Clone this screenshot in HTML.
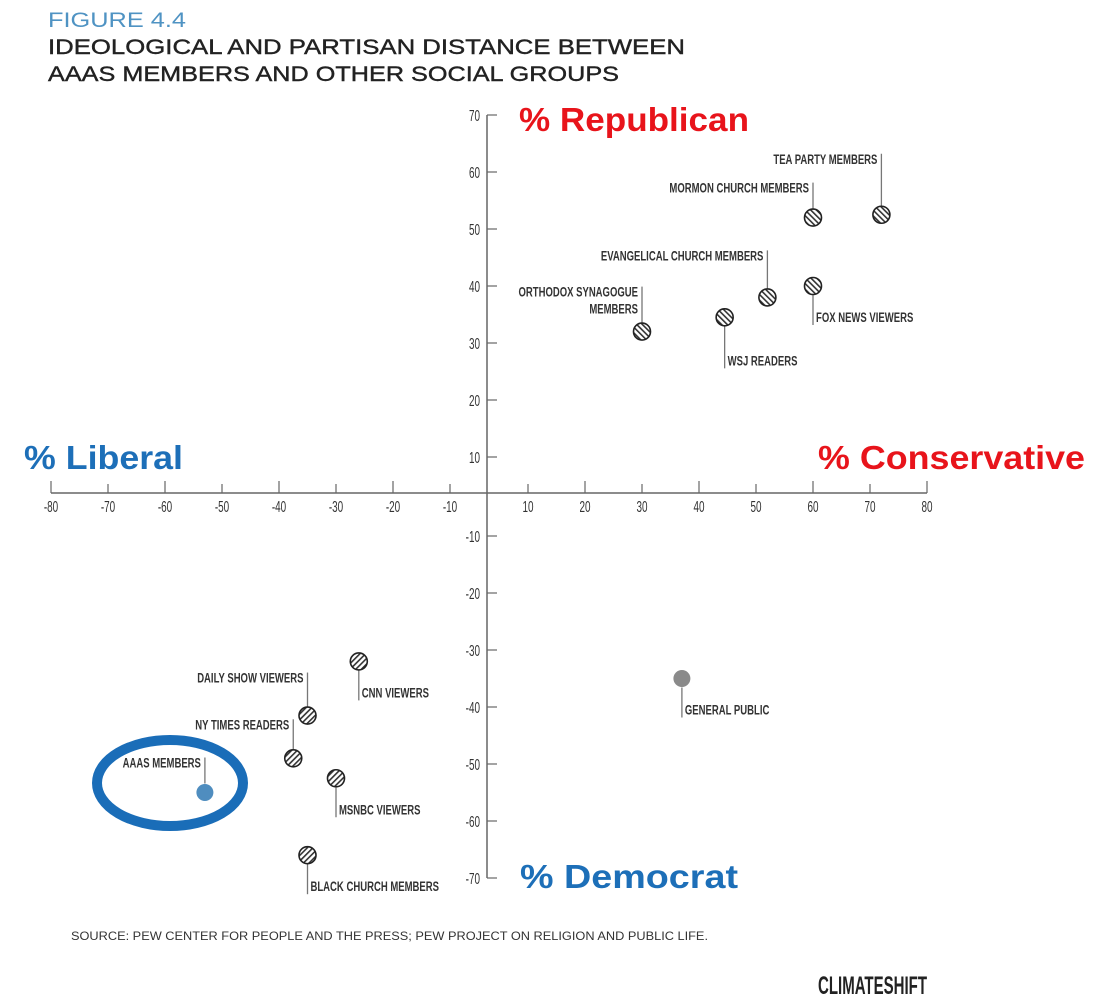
<!DOCTYPE html>
<html><head><meta charset="utf-8"><style>
html,body{margin:0;padding:0;background:#fff;}
svg{display:block;font-family:"Liberation Sans",sans-serif;}
</style></head><body>
<svg id="chart" width="1110" height="1007" viewBox="0 0 1110 1007">
<defs>
<pattern id="hatchA" patternUnits="userSpaceOnUse" width="4" height="4" patternTransform="rotate(-45)"><rect width="4" height="4" fill="#fff"/><rect width="1.6" height="4" fill="#333"/></pattern>
<pattern id="hatchB" patternUnits="userSpaceOnUse" width="4" height="4" patternTransform="rotate(45)"><rect width="4" height="4" fill="#fff"/><rect width="1.6" height="4" fill="#333"/></pattern>
</defs>
<text x="48" y="27" font-size="21" fill="#4f93c3" textLength="138" lengthAdjust="spacingAndGlyphs">FIGURE 4.4</text>
<text x="48" y="54" font-size="21" fill="#222" stroke="#222" stroke-width="0.4" textLength="637" lengthAdjust="spacingAndGlyphs">IDEOLOGICAL AND PARTISAN DISTANCE BETWEEN</text>
<text x="48" y="81" font-size="21" fill="#222" stroke="#222" stroke-width="0.4" textLength="571" lengthAdjust="spacingAndGlyphs">AAAS MEMBERS AND OTHER SOCIAL GROUPS</text>
<g id="axes"></g>
<g id="marks"></g>
<text x="519" y="131" font-size="33" font-weight="bold" fill="#e8141b" textLength="230" lengthAdjust="spacingAndGlyphs">% Republican</text>
<text x="24" y="469" font-size="33" font-weight="bold" fill="#1d6fb8" textLength="159" lengthAdjust="spacingAndGlyphs">% Liberal</text>
<text x="818" y="469" font-size="33" font-weight="bold" fill="#e8141b" textLength="267" lengthAdjust="spacingAndGlyphs">% Conservative</text>
<text x="520" y="888" font-size="33" font-weight="bold" fill="#1d6fb8" textLength="218" lengthAdjust="spacingAndGlyphs">% Democrat</text>
<ellipse cx="170" cy="783" rx="73" ry="43" fill="none" stroke="#1a6db8" stroke-width="10"/>
<text x="71" y="940" font-size="12" fill="#333" textLength="637" lengthAdjust="spacingAndGlyphs">SOURCE: PEW CENTER FOR PEOPLE AND THE PRESS; PEW PROJECT ON RELIGION AND PUBLIC LIFE.</text>
<text x="818" y="994" font-size="25" font-weight="bold" fill="#222" textLength="109" lengthAdjust="spacingAndGlyphs">CLIMATESHIFT</text>
</svg>
<script>
const groups = ["TEA PARTY MEMBERS","MORMON CHURCH MEMBERS","EVANGELICAL CHURCH MEMBERS","FOX NEWS VIEWERS","ORTHODOX SYNAGOGUE|MEMBERS","WSJ READERS","CNN VIEWERS","DAILY SHOW VIEWERS","NY TIMES READERS","MSNBC VIEWERS","AAAS MEMBERS","BLACK CHURCH MEMBERS","GENERAL PUBLIC"];
const conservativeValues = [72,60,52,60,30,44.5,-26,-35,-37.5,-30,-53,-35,37];
const republicanValues = [52.5,52,38,40,32,34.5,-32,-41.5,-49,-52.5,-55,-66,-35];
const xTicks = [-80,-70,-60,-50,-40,-30,-20,-10,10,20,30,40,50,60,70,80];
const yTicks = [70,60,50,40,30,20,10,-10,-20,-30,-40,-50,-60,-70];
// label layout (style): direction and leader length
const labelDir = ["up","up","up","down","up","down","down","up","up","down","up","down","down"];
const leaderLen = [52,26,38,30,36,42,30,34,30,30,26,30,30];

const NS="http://www.w3.org/2000/svg";
const AX=487, AY=493;
function xs(v){return v>0 ? 528+(v-10)*5.7 : 450+(v+10)*5.7;}
function ys(v){return v>0 ? 457-(v-10)*5.7 : 536-(v+10)*5.7;}
function el(t,a,p){const e=document.createElementNS(NS,t);for(const k in a)e.setAttribute(k,a[k]);p.appendChild(e);return e;}
const axes=document.getElementById('axes'), marks=document.getElementById('marks');

const xl=el('line',{x1:xs(-80),x2:xs(80),y1:AY,y2:AY,stroke:'#666','stroke-width':1.5},axes);


const yl=el('line',{x1:AX,x2:AX,y1:ys(70),y2:ys(-70),stroke:'#666','stroke-width':1.5},axes);


xTicks.forEach(v=>{
  const x=xs(v);
  const t=el('line',{x1:x,x2:x,y1:AY,y2:AY-(v%20===0?12:9),stroke:'#666','stroke-width':1.2},axes);
  
  
  const tx=el('text',{transform:`translate(${x},${AY+19}) scale(0.62,1)`,'text-anchor':'middle','font-size':16,fill:'#333'},axes);
  tx.textContent=v;
  
  
});
yTicks.forEach(v=>{
  const y=ys(v);
  const t=el('line',{x1:AX,x2:AX+10,y1:y,y2:y,stroke:'#666','stroke-width':1.2},axes);
  
  
  const tx=el('text',{transform:`translate(${AX-7},${y+6}) scale(0.62,1)`,'text-anchor':'end','font-size':16,fill:'#333'},axes);
  tx.textContent=v;
  
  
});

groups.forEach((g,i)=>{
  const cx=xs(conservativeValues[i]), cy=ys(republicanValues[i]);
  const up=labelDir[i]==='up';
  const y1=up?cy-9:cy+9, y2=up?y1-leaderLen[i]:y1+leaderLen[i];
  const ln=el('line',{x1:cx,x2:cx,y1:y1,y2:y2,stroke:'#777','stroke-width':1.3},marks);
  
  
  let fill, stroke='#222';
  if(g==='AAAS MEMBERS'){fill='#4f8dbf';stroke='none';}
  else if(g==='GENERAL PUBLIC'){fill='#8a8a8a';stroke='none';}
  else fill = republicanValues[i]>0?'url(#hatchA)':'url(#hatchB)';
  const c=el('circle',{cx:cx,cy:cy,r:8.5,fill:fill,stroke:stroke,'stroke-width':1.6},marks);
  
  
  const lines=g.split('|');
  lines.forEach((s,k)=>{
    let tx;
    if(up){
      const by=y2+10+k*17;
      tx=el('text',{transform:`translate(${cx-4},${by}) scale(0.68,1)`,'text-anchor':'end','font-size':14,'font-weight':'bold',fill:'#333'},marks);
    } else {
      const by=y2-3+k*17;
      tx=el('text',{transform:`translate(${cx+3},${by}) scale(0.68,1)`,'text-anchor':'start','font-size':14,'font-weight':'bold',fill:'#333'},marks);
    }
    tx.textContent=s;
    
    
  });
});
</script>
</body></html>
